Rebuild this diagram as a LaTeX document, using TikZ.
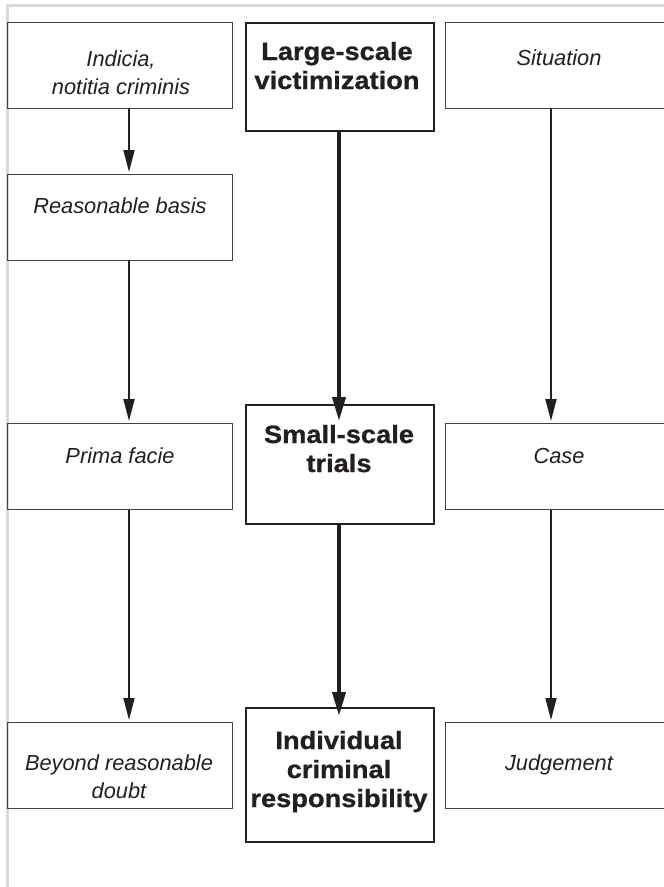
\documentclass[tikz,border=0pt]{standalone}
\usepackage{fontspec}
\setmainfont{Liberation Sans}
\newfontfamily\heavy{Liberation Sans}[FakeStretch=1.09,FakeBold=0.9]
\usetikzlibrary{arrows.meta}
\definecolor{framegray}{HTML}{D8DAD8}
\definecolor{ink}{HTML}{231F20}
\begin{document}
\begin{tikzpicture}[x=1pt,y=-1pt,
  sidebox/.style={draw=ink!85, line width=1.2pt, inner sep=0pt, anchor=north west, minimum height=86pt},
  midbox/.style={draw=ink, line width=2.4pt, inner sep=0pt, anchor=north west, minimum width=188pt},
  itxt/.style={font=\fontsize{21.8}{28}\selectfont\itshape, text=ink, align=center, inner sep=0pt, anchor=base},
  btxt/.style={font=\fontsize{25}{29}\selectfont\heavy\bfseries, text=ink, align=center, inner sep=0pt, anchor=base},
  thinarrow/.style={draw=ink, line width=1.8pt, -{Triangle[length=22pt,width=11pt]}, shorten >=2pt},
  thickarrow/.style={draw=ink, line width=4pt, -{Triangle[length=24pt,width=13pt]}}
]
\useasboundingbox (0,0) rectangle (664,887);
\fill[white] (0,0) rectangle (664,887);
\draw[framegray, line width=3pt] (7,887) -- (7,5) -- (664,5);

% left column
\node[sidebox, minimum width=225pt] (L1) at (7,22) {};
\node[sidebox, minimum width=225pt] (L2) at (7,174) {};
\node[sidebox, minimum width=225pt] (L3) at (7,423) {};
\node[sidebox, minimum width=225pt] (L4) at (7,722) {};
% middle column
\node[midbox, minimum height=108pt] (C1) at (245,22) {};
\node[midbox, minimum height=119pt] (C2) at (245,404) {};
\node[midbox, minimum height=134pt] (C3) at (245,707) {};
% right column
\node[sidebox, minimum width=228pt] (R1) at (445,22) {};
\node[sidebox, minimum width=228pt] (R2) at (445,423) {};
\node[sidebox, minimum width=228pt] (R3) at (445,722) {};

% connectors
\coordinate (xl) at (129,0);
\coordinate (xc) at (339,0);
\coordinate (xr) at (551,0);
\draw[thinarrow] (L1.south -| xl) -- (L2.north -| xl);
\draw[thinarrow] (L2.south -| xl) -- (L3.north -| xl);
\draw[thinarrow] (L3.south -| xl) -- (L4.north -| xl);
\draw[thinarrow] (R1.south -| xr) -- (R2.north -| xr);
\draw[thinarrow] (R2.south -| xr) -- (R3.north -| xr);
\draw[thickarrow, shorten >=-17pt] (C1.south -| xc) -- (C2.north -| xc);
\draw[thickarrow, shorten >=-9pt] (C2.south -| xc) -- (C3.north -| xc);

% texts (base anchor = baseline of last line)
\node[itxt] (tL1) at (121,94) {Indicia,\\notitia criminis};
\node[itxt] (tL2) at (120,213) {Reasonable basis};
\node[itxt] (tL3) at (120,463) {Prima facie};
\node[itxt] (tL4) at (119,798) {Beyond reasonable\\doubt};
\node[itxt] (tR1) at (559,65) {Situation};
\node[itxt] (tR2) at (559,463) {Case};
\node[itxt] (tR3) at (559,770) {Judgement};
\node[btxt] (tC1) at (337,89) {Large-scale\\victimization};
\node[btxt] (tC2) at (339,472) {Small-scale\\trials};
\node[btxt] (tC3) at (339,807) {Individual\\criminal\\responsibility};
\end{tikzpicture}
\end{document}
